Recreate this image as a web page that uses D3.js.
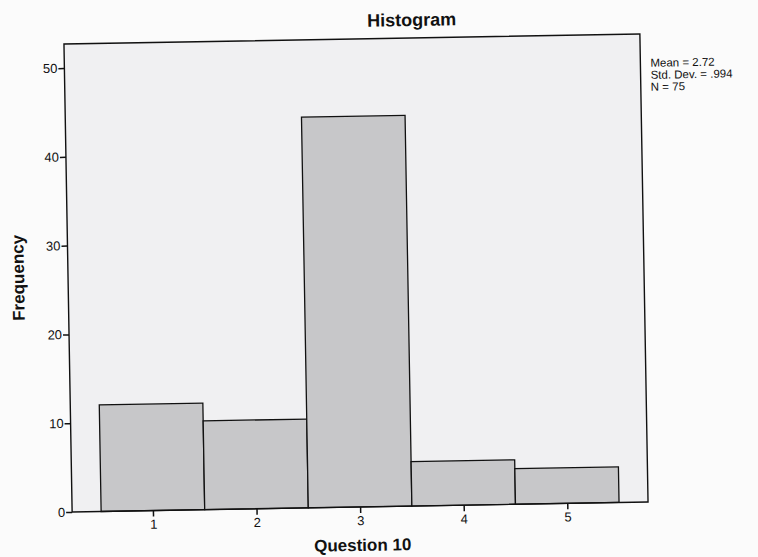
<!DOCTYPE html>
<html>
<head>
<meta charset="utf-8">
<script src="https://cdn.jsdelivr.net/npm/d3@7"></script>
<style>
  html, body { margin: 0; padding: 0; background: #fbfbfb; }
  svg { display: block; font-family: "Liberation Sans", Arial, sans-serif; }
</style>
</head>
<body>
<div id="chart"></div>
<script>
// Question 10 histogram values
const categories = [1, 2, 3, 4, 5];
const frequencies = [12, 10, 44, 5, 4];
const yTicks = [0, 10, 20, 30, 40, 50];
const statsLines = ['Mean = 2.72', 'Std. Dev. = .994', 'N = 75'];

const W = 758, H = 557;
const frame = { left: 68, right: 644, top: 39, bottom: 507 };

const svg = d3.select('#chart').append('svg')
  .attr('width', W).attr('height', H)
  .attr('viewBox', `0 0 ${W} ${H}`);

// the scan is turned about one degree counter-clockwise
const g = svg.append('g').attr('transform', 'rotate(-1 356 273)');

const x = d3.scaleLinear().domain([0.22, 5.78]).range([frame.left, frame.right]);
const y = d3.scaleLinear().domain([0, 52.7]).range([frame.bottom, frame.top]);

// plot background
g.append('rect')
  .attr('x', frame.left).attr('y', frame.top)
  .attr('width', frame.right - frame.left)
  .attr('height', frame.bottom - frame.top)
  .attr('fill', '#f0f0f2');

// bars (each bin is one unit wide, centred on the category)
g.selectAll('.bar')
  .data(categories)
  .join('rect')
  .attr('class', 'bar')
  .attr('x', d => x(d - 0.5))
  .attr('width', d => x(d + 0.5) - x(d - 0.5))
  .attr('y', (d, i) => y(frequencies[i]))
  .attr('height', (d, i) => y(0) - y(frequencies[i]))
  .attr('fill', '#c7c7c9')
  .attr('stroke', '#111')
  .attr('stroke-width', 1.3);

// frame
g.append('rect')
  .attr('x', frame.left).attr('y', frame.top)
  .attr('width', frame.right - frame.left)
  .attr('height', frame.bottom - frame.top)
  .attr('fill', 'none')
  .attr('stroke', '#111')
  .attr('stroke-width', 1.4);

// axes
const yAxis = g.append('g')
  .attr('transform', `translate(${frame.left},0)`)
  .call(d3.axisLeft(y).tickValues(yTicks).tickSize(6).tickPadding(1).tickFormat(d3.format('d')));
const xAxis = g.append('g')
  .attr('transform', `translate(0,${frame.bottom})`)
  .call(d3.axisBottom(x).tickValues(categories).tickSize(6).tickPadding(3).tickFormat(d3.format('d')));

[yAxis, xAxis].forEach(a => {
  a.select('.domain').remove();
  a.selectAll('line').attr('stroke', '#111').attr('stroke-width', 1.5);
  a.selectAll('text').attr('fill', '#111').style('font-size', '13px')
    .style('font-family', '"Liberation Sans", Arial, sans-serif');
});

// title and axis labels
g.append('text')
  .attr('x', 416).attr('y', 27)
  .attr('text-anchor', 'middle')
  .attr('fill', '#111')
  .style('font-size', '18px').style('font-weight', 'bold')
  .text('Histogram');

g.append('text')
  .attr('x', 358).attr('y', 551)
  .attr('text-anchor', 'middle')
  .attr('fill', '#111')
  .style('font-size', '17px').style('font-weight', 'bold')
  .text('Question 10');

g.append('text')
  .attr('transform', 'translate(24,272) rotate(-90)')
  .attr('text-anchor', 'middle')
  .attr('fill', '#111')
  .style('font-size', '17px').style('font-weight', 'bold')
  .text('Frequency');

// summary statistics
g.append('g').selectAll('text')
  .data(statsLines)
  .join('text')
  .attr('x', 654)
  .attr('y', (d, i) => 72 + i * 12)
  .attr('fill', '#111')
  .style('font-size', '11.5px')
  .text(d => d);
</script>
</body>
</html>
